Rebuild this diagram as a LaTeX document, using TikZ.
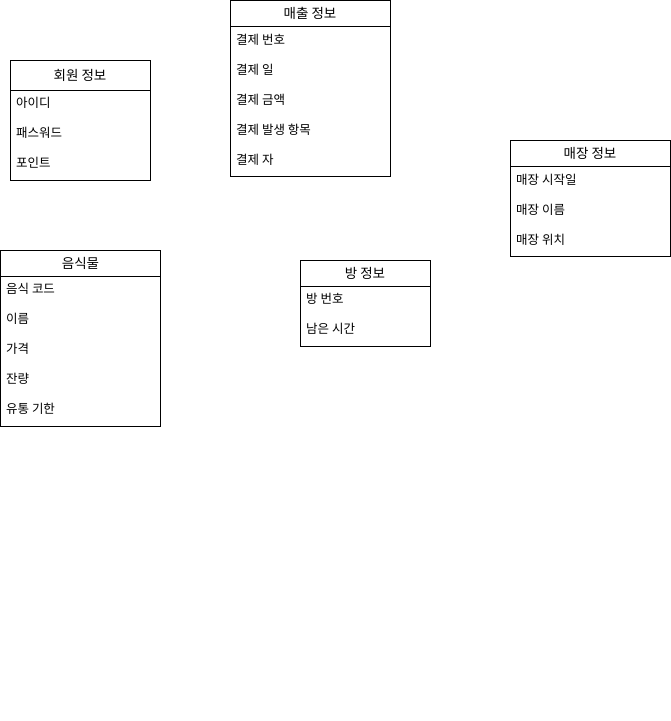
\documentclass[tikz,border=0pt]{standalone}
\usepackage{fontspec}
\newfontfamily\kofont{Noto Sans CJK KR}
\usetikzlibrary{positioning}

\begin{document}
\begin{tikzpicture}[x=1pt,y=-1pt,
  titre/.style={draw,line width=1pt,inner sep=0,outer sep=0,font=\kofont\fontsize{13.5}{15}\selectfont},
  corps/.style={draw,line width=1pt,inner sep=0,outer sep=0},
  champ/.style={anchor=west,inner sep=0,font=\kofont\fontsize{12.5}{14}\selectfont}]
\useasboundingbox(0,0)rectangle(671,721);
\node[titre,minimum width=140pt,minimum height=30pt](A)at(80,75){회원 정보};
\node[corps,minimum width=140pt,minimum height=90pt,below=0pt of A](Ab){};
\node[champ](A1)at(16,103){아이디};
\node[champ](A2)at(16,133){패스워드};
\node[champ](A3)at(16,163){포인트};
\node[titre,minimum width=160pt,minimum height=26pt](B)at(310,13){매출 정보};
\node[corps,minimum width=160pt,minimum height=150pt,below=0pt of B](Bb){};
\node[champ](B1)at(236,40){결제 번호};
\node[champ](B2)at(236,70){결제 일};
\node[champ](B3)at(236,100){결제 금액};
\node[champ](B4)at(236,130){결제 발생 항목};
\node[champ](B5)at(236,160){결제 자};
\node[titre,minimum width=160pt,minimum height=26pt](C)at(590,153){매장 정보};
\node[corps,minimum width=160pt,minimum height=90pt,below=0pt of C](Cb){};
\node[champ](C1)at(516,180){매장 시작일};
\node[champ](C2)at(516,210){매장 이름};
\node[champ](C3)at(516,240){매장 위치};
\node[titre,minimum width=160pt,minimum height=26pt](D)at(80.5,263){음식물};
\node[corps,minimum width=160pt,minimum height=150pt,below=0pt of D](Db){};
\node[champ](D1)at(6,289){음식 코드};
\node[champ](D2)at(6,319){이름};
\node[champ](D3)at(6,349){가격};
\node[champ](D4)at(6,379){잔량};
\node[champ](D5)at(6,409){유통 기한};
\node[titre,minimum width=130pt,minimum height=26pt](E)at(365,273){방 정보};
\node[corps,minimum width=130pt,minimum height=60pt,below=0pt of E](Eb){};
\node[champ](E1)at(306,299){방 번호};
\node[champ](E2)at(306,329){남은 시간};
\end{tikzpicture}
\end{document}
